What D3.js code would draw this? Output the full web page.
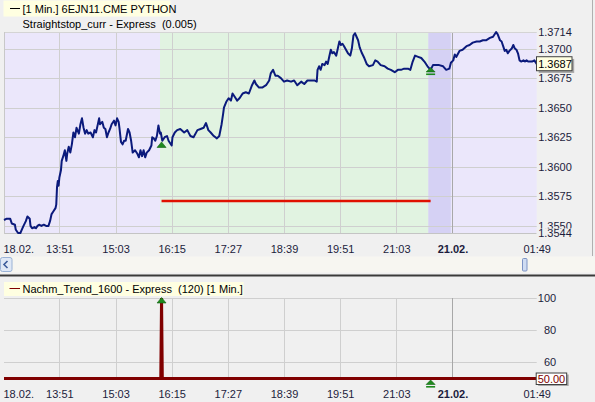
<!DOCTYPE html>
<html><head><meta charset="utf-8">
<script src="https://cdn.jsdelivr.net/npm/d3@7"></script>
<style>
body{margin:0;background:#f0f0f0;}
svg{display:block;font-family:"Liberation Sans",Arial,sans-serif;font-size:11px;}
text{white-space:pre;}
</style>
</head><body>
<svg id="c" width="595" height="402"></svg>
<script>
// ---------- DATA ----------
const chartTitle = "[1 Min.] 6EJN11.CME PYTHON";
const studyTitle = "Straightstop_curr - Express  (0.005)";
const trendTitle = "Nachm_Trend_1600 - Express  (120) [1 Min.]";

const priceBars = [
  0,3,8,10,14,15,18,21,23,25,
  28,30,33,34,36,39,41,43,45,48,
  51,54,57,59,61,63,66,67,68,69,
  70,71,73,74,76,78,80,81,83,85,
  87,89,91,93,96,98,100,102,104,106,
  108,111,114,116,118,120,122,123,126,128,
  130,132,134,136,138,141,143,145,147,148,
  150,152,154,156,159,161,163,165,168,171,
  173,175,177,179,181,183,186,189,190,192,
  194,196,198,200,201,203,206,209,211,215,
  216,219,222,226,231,235,239,243,248,252,
  256,259,262,265,269,273,276,279,281,282,
  285,288,291,293,296,299,302,306,310,314,
  318,321,323,327,331,336,340,342,345,348,
  351,355,359,363,368,372,376,381,385,389,
  393,398,401,402,404,406,408,411,413,415,
  417,419,421,423,426,428,430,432,434,436,
  441,444,446,448,450,452,454,456,459,462,
  465,468,473,476,479,483,488,492,496,501,
  505,509,513,518,521,524,527,531,535,539,
  543,547,550,554,558,563,567,571,573,576,
  578,580,584,588,593,597,601,606,610,614,
  618,623,627,631,633,636,638,640,642,644,
  646,648,651,653,655,657,659,661,663,666,
  668,670,672,674,677,680,683
];
const priceValues = [
  1.3555,1.3556,1.3556,1.3552,1.3551,1.3547,1.3544,1.3544,1.3547,1.3550,
  1.3554,1.3558,1.3556,1.3550,1.3548,1.3549,1.3548,1.3550,1.3551,1.3550,
  1.3551,1.3550,1.3550,1.3554,1.3560,1.3562,1.3565,1.3568,1.3583,1.3588,
  1.3584,1.3591,1.3597,1.3605,1.3609,1.3614,1.3605,1.3611,1.3617,1.3612,
  1.3619,1.3629,1.3625,1.3633,1.3628,1.3636,1.3641,1.3633,1.3628,1.3631,
  1.3628,1.3629,1.3625,1.3631,1.3629,1.3635,1.3641,1.3636,1.3638,1.3633,
  1.3632,1.3625,1.3629,1.3632,1.3636,1.3639,1.3635,1.3641,1.3638,1.3633,
  1.3621,1.3619,1.3622,1.3622,1.3632,1.3629,1.3622,1.3612,1.3614,1.3611,
  1.3608,1.3614,1.3609,1.3614,1.3608,1.3612,1.3614,1.3618,1.3625,1.3624,
  1.3622,1.3626,1.3635,1.3628,1.3629,1.3622,1.3625,1.3626,1.3622,1.3618,
  1.3625,1.3629,1.3631,1.3632,1.3629,1.3631,1.3626,1.3625,1.3631,1.3632,
  1.3633,1.3637,1.3631,1.3629,1.3626,1.3624,1.3626,1.3636,1.3645,1.3650,
  1.3655,1.3658,1.3656,1.3662,1.3659,1.3656,1.3658,1.3662,1.3663,1.3662,
  1.3669,1.3673,1.3670,1.3667,1.3667,1.3669,1.3673,1.3679,1.3682,1.3677,
  1.3677,1.3675,1.3672,1.3673,1.3672,1.3673,1.3669,1.3672,1.3670,1.3673,
  1.3673,1.3673,1.3672,1.3682,1.3685,1.3682,1.3687,1.3686,1.3689,1.3687,
  1.3693,1.3699,1.3696,1.3697,1.3694,1.3700,1.3706,1.3703,1.3704,1.3702,
  1.3696,1.3694,1.3700,1.3711,1.3713,1.3710,1.3707,1.3701,1.3696,1.3692,
  1.3687,1.3685,1.3686,1.3690,1.3689,1.3686,1.3685,1.3683,1.3682,1.3680,
  1.3682,1.3682,1.3683,1.3683,1.3682,1.3689,1.3694,1.3693,1.3692,1.3689,
  1.3685,1.3682,1.3686,1.3686,1.3686,1.3685,1.3682,1.3683,1.3688,1.3690,
  1.3695,1.3693,1.3698,1.3699,1.3702,1.3703,1.3705,1.3706,1.3706,1.3707,
  1.3707,1.3709,1.3710,1.3714,1.3712,1.3707,1.3706,1.3702,1.3698,1.3699,
  1.3696,1.3698,1.3700,1.3703,1.3700,1.3699,1.3696,1.3690,1.3689,1.3690,
  1.3689,1.3690,1.3689,1.3689,1.3689,1.3690,1.3687
];

const barDomain = [0, 683];
const timeTickBars   = [71, 143, 215, 287, 359, 431, 503, 575, 683];
const timeTickLabels = ["13:51","15:03","16:15","17:27","18:39","19:51","21:03","21.02.","01:49"];
const dayChangeLabel = "21.02.";
const firstDayLabel  = "18.02.";

const priceMin = 1.3544, priceMax = 1.3714;
const priceTicks = [1.3714, 1.3700, 1.3675, 1.3650, 1.3625, 1.3600, 1.3575, 1.3550, 1.3544];
const priceGrid  = [1.3700, 1.3675, 1.3650, 1.3625, 1.3600, 1.3575, 1.3550];
const lastPrice = 1.3687;

// session shading (bar ranges)
const bandFrom = [0, 200, 544, 573];
const bandTo   = [200, 544, 573, 683];
const bandKind = ["off", "on", "pre", "off"];

// straight stop line
const stopFrom = 202, stopTo = 547, stopValue = 1.3571;

// signal markers on price panel
const signalBars   = [202, 547];
const signalPrices = [1.3621, 1.3684];
const signalUnder  = [false, true];

// trend indicator panel
const trendBars   = [0, 201, 202, 203, 683];
const trendValues = [50, 50, 100, 50, 50];
const trendMin = 50, trendMax = 100;
const trendTicks = [100, 80, 60];
const trendLast = 50;
const trendSignalBars   = [202, 547];
const trendSignalValues = [100, 50];
const trendSignalUnder  = [false, true];

// ---------- DRAW ----------
const svg = d3.select("#c");
const plotL = 4, plotR = 536.7;
const x  = d3.scaleLinear().domain(barDomain).range([plotL, plotR]);
const yP = d3.scaleLinear().domain([priceMin, priceMax]).range([233, 32]);
const yT = d3.scaleLinear().domain([trendMin, trendMax]).range([378.5, 298]);
const labelColor = "#1c1c3c";
const gridColor = "#cfcfcf";

svg.append("rect").attr("width",595).attr("height",402).attr("fill","#f0f0f0");

// top legend
svg.append("rect").attr("x",3.5).attr("y",0.5).attr("width",167).attr("height",16).attr("fill","#ffffe1");
svg.append("line").attr("x1",10).attr("x2",20).attr("y1",8.5).attr("y2",8.5).attr("stroke","#000").attr("stroke-width",1);
svg.append("text").attr("x",22.5).attr("y",12.5).attr("fill","#000").attr("xml:space","preserve").text(chartTitle);
svg.append("text").attr("x",22.5).attr("y",28).attr("fill","#000").attr("xml:space","preserve").text(studyTitle);

// session bands
const bandColor = {off:"#ebe7fb", on:"#e1f3e1", pre:"#d5d1f4"};
svg.append("g").selectAll("rect").data(d3.range(bandFrom.length)).join("rect")
  .attr("x", i => x(bandFrom[i]))
  .attr("width", i => x(bandTo[i]) - x(bandFrom[i]))
  .attr("y", yP(priceMax)).attr("height", yP(priceMin) - yP(priceMax))
  .attr("fill", i => bandColor[bandKind[i]]);

// grid (top)
const gTop = svg.append("g");
gTop.selectAll("line.h").data(priceGrid).join("line")
  .attr("x1", plotL).attr("x2", plotR)
  .attr("y1", d => Math.round(yP(d)) + 0.5).attr("y2", d => Math.round(yP(d)) + 0.5)
  .attr("stroke", gridColor);
gTop.selectAll("line.v").data(timeTickBars.slice(0, -1)).join("line")
  .attr("x1", d => Math.round(x(d)) + 0.5).attr("x2", d => Math.round(x(d)) + 0.5)
  .attr("y1", yP(priceMax)).attr("y2", yP(priceMin))
  .attr("stroke", (d, i) => timeTickLabels[i] === dayChangeLabel ? "#a8a8a8" : gridColor);
gTop.append("line").attr("x1",plotL).attr("x2",plotR).attr("y1",32.5).attr("y2",32.5).attr("stroke","#d4d4d4");
gTop.append("line").attr("x1",plotL).attr("x2",plotR).attr("y1",233.5).attr("y2",233.5).attr("stroke","#c4c4c4");
gTop.append("line").attr("x1",plotL+0.5).attr("x2",plotL+0.5).attr("y1",32).attr("y2",234).attr("stroke","#c8c8c8");

// stop line
svg.append("line")
  .attr("x1", x(stopFrom)).attr("x2", x(stopTo))
  .attr("y1", yP(stopValue)).attr("y2", yP(stopValue))
  .attr("stroke", "#e01000").attr("stroke-width", 2.5);

// price line
const pricePts = priceBars.map((b, i) => [b, priceValues[i]]);
svg.append("path").datum(pricePts)
  .attr("fill","none").attr("stroke","#0b1a7c").attr("stroke-width",2)
  .attr("stroke-linejoin","round")
  .attr("d", d3.line().x(d => x(d[0])).y(d => yP(d[1])));

// signal markers
function marker(g, cx, apexY, under) {
  const h = under ? 4.5 : 5.5;
  g.append("path")
    .attr("d", `M${cx},${apexY} L${cx+4.5},${apexY+h} L${cx-4.5},${apexY+h} Z`)
    .attr("fill", "#1e8a1e").attr("stroke", "#106010").attr("stroke-width", 0.6);
  if (under) {
    g.append("rect").attr("x", cx-4.5).attr("y", apexY+6).attr("width", 9).attr("height", 1.6).attr("fill","#1e8a1e");
  }
}
const gSig = svg.append("g");
signalBars.forEach((b, i) => marker(gSig, x(b), yP(signalPrices[i]), signalUnder[i]));

// right price axis
const axP = svg.append("g").attr("transform", `translate(${plotR},0)`)
  .call(d3.axisRight(yP).tickValues(priceTicks).tickSize(0).tickPadding(1.5).tickFormat(d3.format(".4f")));
axP.select(".domain").remove();
axP.selectAll("text").attr("fill", labelColor).attr("font-size", 11).attr("font-family","Liberation Sans, Arial, sans-serif");
axP.selectAll(".tick").filter(d => d === priceMin).each(function() {
  d3.select(this).insert("rect", "text").attr("x", 0).attr("y", -5).attr("width", 40).attr("height", 12).attr("fill", "#f0f0f0");
});

// last price box
const lpY = yP(lastPrice);
svg.append("rect").attr("x", plotR+2).attr("y", lpY-5).attr("width", 35.5).attr("height", 14).attr("fill","#a8a8a8");
svg.append("rect").attr("x", plotR-0.2).attr("y", lpY-7.2).attr("width", 35.5).attr("height", 14).attr("fill","#ffffe1").attr("stroke","#404040").attr("stroke-width",1);
svg.append("text").attr("x", plotR+1.5).attr("y", lpY+4).attr("fill","#000").text(d3.format(".4f")(lastPrice));

// time axis
function timeAxis(yBase) {
  const g = svg.append("g").attr("transform", `translate(0,${yBase})`)
    .call(d3.axisBottom(x).tickValues(timeTickBars).tickSize(0).tickFormat((d, i) => timeTickLabels[i]));
  g.select(".domain").remove();
  g.selectAll("text").attr("y", 0).attr("dy", 0).attr("fill", labelColor)
    .attr("font-size", 11).attr("font-family","Liberation Sans, Arial, sans-serif")
    .attr("font-weight", (d, i) => timeTickLabels[i] === dayChangeLabel ? "bold" : "normal");
  svg.append("text").attr("x", 3.5).attr("y", yBase).attr("fill", labelColor).text(firstDayLabel);
}
timeAxis(253);

// scrollbar
svg.append("rect").attr("x",0).attr("y",256.5).attr("width",595).attr("height",16).attr("fill","#f7f6f1");
svg.append("rect").attr("x",0.5).attr("y",257.5).attr("width",11.5).attr("height",14).attr("rx",2).attr("fill","#dfe8f6").attr("stroke","#9ab2d6");
svg.append("path").attr("d","M7.5,261 L4,264.5 L7.5,268").attr("fill","none").attr("stroke","#3a5a9a").attr("stroke-width",1.6);
svg.append("rect").attr("x",522.5).attr("y",258.5).attr("width",4.5).attr("height",12.5).attr("rx",1).attr("fill","#cfdcf2").attr("stroke","#7c93c4");
svg.append("rect").attr("x",0).attr("y",274.5).attr("width",595).attr("height",2).attr("fill","#3a3a3a");
svg.append("line").attr("x1",592.5).attr("x2",592.5).attr("y1",0).attr("y2",256).attr("stroke","#b0b0b0");

// bottom legend
svg.append("rect").attr("x",4).attr("y",282).attr("width",239.5).attr("height",14).attr("fill","#ffffe1");
svg.append("line").attr("x1",9.5).attr("x2",20).attr("y1",288.5).attr("y2",288.5).attr("stroke","#800000").attr("stroke-width",1);
svg.append("text").attr("x",22.5).attr("y",292.8).attr("fill","#000").attr("xml:space","preserve").text(trendTitle);

// bottom grid
const gBot = svg.append("g");
gBot.selectAll("line.h").data(trendTicks).join("line")
  .attr("x1", plotL).attr("x2", plotR)
  .attr("y1", d => Math.round(yT(d)) + 0.5).attr("y2", d => Math.round(yT(d)) + 0.5)
  .attr("stroke", gridColor);
gBot.selectAll("line.v").data(timeTickBars.slice(0, -1)).join("line")
  .attr("x1", d => Math.round(x(d)) + 0.5).attr("x2", d => Math.round(x(d)) + 0.5)
  .attr("y1", yT(trendMax)).attr("y2", yT(trendMin))
  .attr("stroke", (d, i) => timeTickLabels[i] === dayChangeLabel ? "#a8a8a8" : gridColor);

// trend line
const trendPts = trendBars.map((b, i) => [b, trendValues[i]]);
svg.append("path").datum(trendPts)
  .attr("fill","none").attr("stroke","#800000").attr("stroke-width",3)
  .attr("stroke-linejoin","miter")
  .attr("d", d3.line().x(d => x(d[0])).y(d => yT(d[1])));

const gSig2 = svg.append("g");
trendSignalBars.forEach((b, i) => marker(gSig2, x(b), yT(trendSignalValues[i]) + (trendSignalUnder[i] ? 1.5 : -0.5), trendSignalUnder[i]));

// right trend axis
const axT = svg.append("g").attr("transform", `translate(${plotR},0)`)
  .call(d3.axisRight(yT).tickValues(trendTicks).tickSize(0).tickFormat(d3.format("d")));
axT.select(".domain").remove();
axT.selectAll("text").attr("x", 19.5).attr("text-anchor","end").attr("fill", labelColor)
  .attr("font-size", 11).attr("font-family","Liberation Sans, Arial, sans-serif");

// last trend box
const ltY = yT(trendLast);
svg.append("rect").attr("x", plotR+1.5).attr("y", ltY-4).attr("width", 30.5).attr("height", 11.5).attr("fill","#a8a8a8");
svg.append("rect").attr("x", plotR-0.5).attr("y", ltY-5.5).attr("width", 30.5).attr("height", 11.5).attr("fill","#ffffff").attr("stroke","#404040");
svg.append("text").attr("x", plotR+1).attr("y", ltY+4).attr("fill","#800000").text(d3.format(".2f")(trendLast));

timeAxis(397.5);
</script>
</body></html>
